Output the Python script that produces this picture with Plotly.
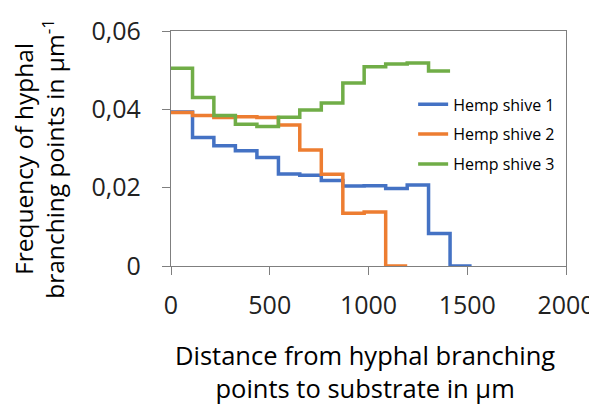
import plotly.graph_objects as go

# bin edges (µm)
bin_edges = [0, 109, 217, 326, 435, 544, 652, 761, 870, 978, 1087, 1196, 1304, 1413, 1522]

shive1 = [0.0393, 0.0328, 0.0307, 0.0294, 0.0277, 0.0235, 0.0232, 0.0218,
          0.0204, 0.0205, 0.0198, 0.0207, 0.0083, 0.0]
shive2 = [0.0392, 0.0384, 0.0379, 0.0381, 0.0379, 0.0360, 0.0296, 0.0234,
          0.0135, 0.0138, 0.0]
shive3 = [0.0505, 0.0430, 0.0384, 0.0362, 0.0356, 0.0380, 0.0398, 0.0416,
          0.0467, 0.0509, 0.0516, 0.0518, 0.0498]

series_names = ["Hemp shive 1", "Hemp shive 2", "Hemp shive 3"]
colors = ["#4472C4", "#ED7D31", "#70AD47"]

fig = go.Figure()
for i, (name, vals, col) in enumerate(zip(series_names, [shive1, shive2, shive3], colors)):
    xs = bin_edges[:len(vals) + 1]
    ys = vals + [vals[-1]]
    fig.add_trace(go.Scatter(x=xs, y=ys, name=name, mode="lines",
                             legendgroup=str(i),
                             line=dict(color=col, width=3.5, shape="hv")))

axis_style = dict(showline=True, linecolor="#7f7f7f", linewidth=1.3,
                  mirror=True, showgrid=False, zeroline=False,
                  ticks="outside", ticklen=8, tickcolor="#7f7f7f",
                  automargin=False,
                  tickfont=dict(size=25, color="#222"))

# page body has an 8px default margin, so the figure is sized 8px smaller
fig.update_layout(
    width=589, height=399,
    margin=dict(l=163, r=31, t=23, b=141),
    plot_bgcolor="white", paper_bgcolor="white",
    font=dict(family="Open Sans", color="black"),
    separators=", ",
    showlegend=True,
    legend=dict(x=0.613, y=0.76, xanchor="left", yanchor="top",
                font=dict(size=16), bgcolor="rgba(0,0,0,0)",
                tracegroupgap=6, itemwidth=30),
)
fig.update_xaxes(range=[0, 2000], dtick=500, ticklabelstandoff=9, **axis_style)
fig.update_yaxes(range=[0, 0.06], dtick=0.02, ticklabelstandoff=16, **axis_style)

fig.add_annotation(text="Distance from hyphal branching<br>points to substrate in µm",
                   xref="paper", yref="paper", x=0.49, y=-0.449,
                   xanchor="center", yanchor="middle", showarrow=False,
                   font=dict(size=25.5))
fig.add_annotation(text="Frequency of hyphal<br>branching points in µm<sup>-1</sup>",
                   xref="paper", yref="paper", x=-0.335, y=0.455,
                   xanchor="center", yanchor="middle", showarrow=False,
                   textangle=-90, font=dict(size=24.5))

fig.write_html("out.html")
